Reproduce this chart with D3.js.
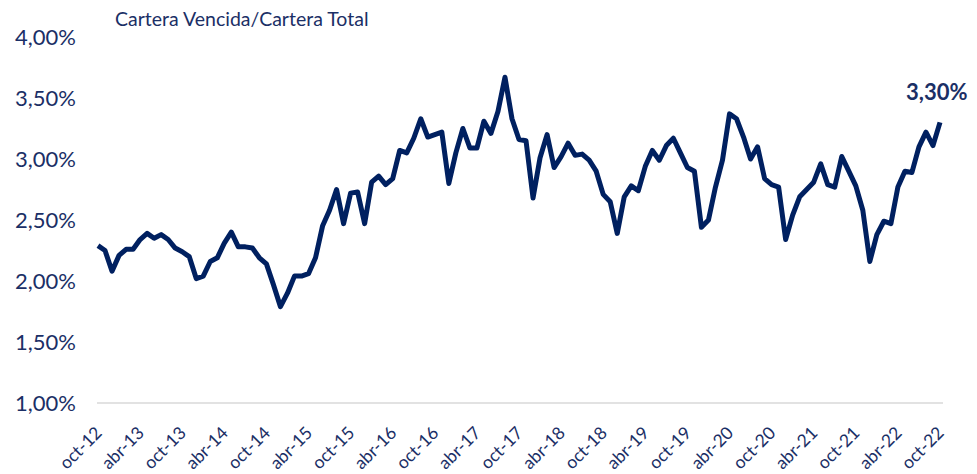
<!DOCTYPE html>
<html lang="es">
<head>
<meta charset="UTF-8">
<title>Cartera Vencida/Cartera Total</title>
<script src="https://cdnjs.cloudflare.com/ajax/libs/d3/7.8.5/d3.min.js"></script>
<style>
    body {
        margin: 0;
        background: #fff;
        font-family: Lato, "Open Sans", sans-serif;
    }
    .label { fill: #1b2f66; }
</style>
</head>
<body>
<div id="chart"></div>
<script>
    // monthly series, oct-12 .. oct-22 (in %)
    const monthNames = ["ene", "feb", "mar", "abr", "may", "jun", "jul", "ago", "sep", "oct", "nov", "dic"];
    const startYear = 2012, startMonth = 9, nMonths = 121;

    const values = [
        2.29, 2.25, 2.08, 2.21, 2.26, 2.26, 2.34, 2.39, 2.35, 2.38, 2.34, 2.27,
        2.24, 2.20, 2.02, 2.04, 2.16, 2.19, 2.31, 2.40, 2.28, 2.28, 2.27, 2.19,
        2.14, 1.97, 1.79, 1.90, 2.04, 2.04, 2.06, 2.19, 2.45, 2.58, 2.75, 2.47,
        2.72, 2.73, 2.47, 2.81, 2.86, 2.79, 2.84, 3.07, 3.05, 3.17, 3.33, 3.18,
        3.20, 3.22, 2.80, 3.05, 3.25, 3.09, 3.09, 3.31, 3.21, 3.39, 3.67, 3.33,
        3.16, 3.15, 2.68, 3.01, 3.20, 2.93, 3.02, 3.13, 3.03, 3.04, 2.99, 2.90,
        2.71, 2.65, 2.39, 2.69, 2.78, 2.74, 2.94, 3.07, 2.99, 3.11, 3.17, 3.05,
        2.93, 2.90, 2.44, 2.50, 2.77, 2.99, 3.37, 3.33, 3.18, 3.00, 3.10, 2.84,
        2.79, 2.77, 2.34, 2.54, 2.69, 2.75, 2.81, 2.96, 2.79, 2.77, 3.02, 2.90,
        2.78, 2.58, 2.16, 2.38, 2.49, 2.47, 2.77, 2.90, 2.89, 3.10, 3.22, 3.11,
        3.30
    ];

    const xTickLabels = ["oct-12", "abr-13", "oct-13", "abr-14", "oct-14", "abr-15", "oct-15",
        "abr-16", "oct-16", "abr-17", "oct-17", "abr-18", "oct-18", "abr-19", "oct-19",
        "abr-20", "oct-20", "abr-21", "oct-21", "abr-22", "oct-22"];
    const yTicks = [1.0, 1.5, 2.0, 2.5, 3.0, 3.5, 4.0];

    const categories = d3.range(nMonths).map(i => {
        const m = (startMonth + i) % 12;
        const y = startYear + Math.floor((startMonth + i) / 12);
        return monthNames[m] + "-" + String(y).slice(2);
    });

    const width = 977, height = 474;
    const svg = d3.select("#chart").append("svg")
        .attr("width", width)
        .attr("height", height);

    const x = d3.scalePoint().domain(categories).range([98, 940]);
    const y = d3.scaleLinear().domain([1, 4]).range([403, 37]);
    const fmt = v => d3.format(".2f")(v).replace(".", ",") + "%";

    // title
    svg.append("text")
        .attr("class", "label")
        .attr("x", 115)
        .attr("y", 26)
        .style("font-size", "19.5px")
        .text("Cartera Vencida/Cartera Total");

    // baseline
    svg.append("line")
        .attr("x1", 97).attr("x2", 943)
        .attr("y1", y(1)).attr("y2", y(1))
        .attr("stroke", "#d9d9d9")
        .attr("stroke-width", 1.5);

    // y labels
    svg.append("g").selectAll("text")
        .data(yTicks)
        .join("text")
        .attr("class", "label")
        .attr("x", 76)
        .attr("y", d => y(d))
        .attr("dy", "0.36em")
        .attr("text-anchor", "end")
        .style("font-size", "22px")
        .text(fmt);

    // x labels
    svg.append("g").selectAll("text")
        .data(xTickLabels)
        .join("text")
        .attr("class", "label")
        .attr("text-anchor", "end")
        .attr("transform", d => `translate(${x(d) + 5},434) rotate(-45)`)
        .style("font-size", "17.5px")
        .text(d => d);

    // line
    const line = d3.line()
        .x((d, i) => x(categories[i]))
        .y(d => y(d));

    svg.append("path")
        .datum(values)
        .attr("fill", "none")
        .attr("stroke", "#002060")
        .attr("stroke-width", 5)
        .attr("stroke-linejoin", "round")
        .attr("d", line);

    // last value label
    const last = values[values.length - 1];
    svg.append("text")
        .attr("class", "label")
        .attr("x", x(categories[nMonths - 1]) - 34)
        .attr("y", y(last) - 22)
        .style("font-size", "22px")
        .style("font-weight", "bold")
        .text(fmt(last));
</script>
</body>
</html>
